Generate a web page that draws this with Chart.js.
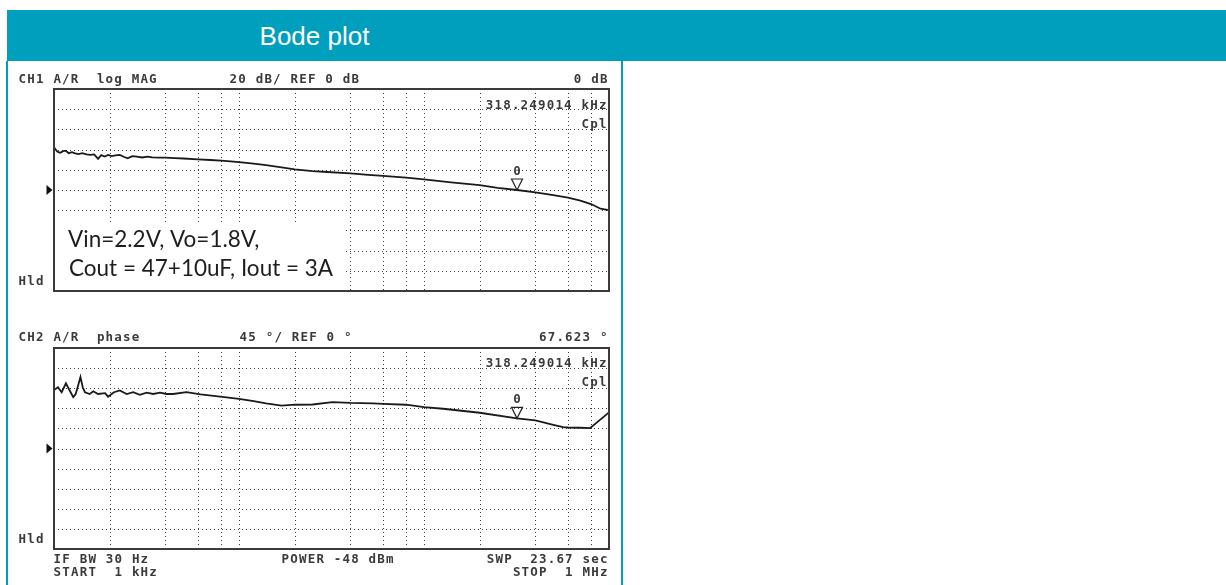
<!DOCTYPE html>
<html>
<head>
<meta charset="utf-8">
<title>Bode plot</title>
<script src="https://cdn.jsdelivr.net/npm/chart.js@4.4.1/dist/chart.umd.min.js"></script>
<style>
  html, body { margin: 0; padding: 0; background: #fff; width: 1226px; height: 585px; overflow: hidden; position: relative; }
  #hdr { position: absolute; left: 7px; top: 10px; width: 1219px; height: 51px; background: #009fbd; }
  #hdr span { position: absolute; left: 0; width: 615px; top: 11.5px; text-align: center;
              font: 26px "Liberation Sans", Arial, sans-serif; line-height: 29px; color: #fff; }
  #panel { position: absolute; left: 6px; top: 61px; width: 617px; height: 540px; box-sizing: border-box;
           border-left: 2px solid #009fbd; border-right: 2px solid #009fbd; }
  canvas { position: absolute; left: 0; top: 0; }
</style>
</head>
<body>
<div id="hdr"><span>Bode plot</span></div>
<div id="panel"></div>
<canvas id="magCanvas" width="1226" height="585"></canvas>
<canvas id="phaseCanvas" width="1226" height="585"></canvas>
<script>
// Sweep 1 kHz .. 1 MHz, frequencies in kHz
const magFreq = [1.0, 1.04, 1.08, 1.12, 1.16, 1.2, 1.25, 1.3, 1.36, 1.42, 1.5, 1.57, 1.65, 1.73, 1.8, 1.88, 1.96,
  2.05, 2.15, 2.27, 2.38, 2.5, 2.65, 2.8, 3.0, 3.2, 3.4, 3.7, 4.0, 4.5, 5, 6, 7, 8, 9, 10, 12, 14, 17, 20, 25, 30,
  40, 50, 60, 80, 100, 140, 200, 250, 318.249014, 400, 500, 600, 700, 800, 900, 1000];
const magDb = [42.3, 38.0, 36.9, 38.5, 38.9, 36.5, 37.5, 36.2, 35.6, 36.4, 35.2, 34.7, 35.3, 30.8, 34.5, 33.2, 34.8,
  33.5, 34.2, 34.7, 32.9, 31.4, 33.6, 33.0, 32.2, 33.0, 32.4, 32.0, 32.0, 31.5, 31.2, 30.4, 29.7, 29.0, 28.3, 27.7,
  26.2, 24.6, 22.5, 20.5, 18.6, 17.8, 16.5, 15.0, 13.9, 12.2, 10.6, 7.6, 4.8, 2.2, 0, -2.3, -5.0, -7.6, -10.5, -13.9,
  -18.5, -20.0];

const phaseFreq = [1.0, 1.05, 1.10, 1.16, 1.23, 1.27, 1.31, 1.35, 1.39, 1.43, 1.47, 1.56, 1.63, 1.73, 1.89, 1.96,
  2.05, 2.11, 2.27, 2.47, 2.68, 2.91, 3.17, 3.44, 3.74, 4.06, 4.4, 5.2, 6.2, 7.9, 10, 12, 14, 17, 20, 25, 32, 40,
  53, 60, 80, 100, 127, 200, 318.249014, 400, 500, 565, 600, 700, 790, 1000];
const phaseDeg = [131, 137, 126, 146, 126, 115, 122, 141, 160, 137, 126, 122, 128, 122, 124, 116,
  122, 126, 130, 122, 126, 120, 125, 122, 125, 122, 122, 126, 121, 116, 111, 106, 101, 96, 98, 98.5, 104, 102,
  101, 100, 98, 92.5, 89, 80, 67.623, 63, 53, 48, 47, 46.5, 45.5, 81];

// Graticule
const gridFreqs = [2, 4, 6, 8, 10, 20, 40, 60, 80, 100, 200, 400, 600, 800];
const magGrid = [-80, -60, -40, -20, 0, 20, 40, 60, 80];
const phaseGrid = [-180, -135, -90, -45, 0, 45, 90, 135, 180];

// Marker 0
const markerFreq = 318.249014;
const markerMag = 0;
const markerPhase = 67.623;

const MONO = 'bold 12.5px "DejaVu Sans Mono", "Liberation Mono", monospace';
const PITCH = 8.7;
const INK = '#3a3a3a';

function monoText(ctx, s, x, y, align) {
  const x0 = align === 'right' ? x - s.length * PITCH : x;
  ctx.font = MONO;
  ctx.fillStyle = INK;
  ctx.textAlign = 'center';
  ctx.textBaseline = 'alphabetic';
  for (let i = 0; i < s.length; i++) {
    if (s[i] !== ' ') ctx.fillText(s[i], x0 + i * PITCH + PITCH / 2, y);
  }
}

function drawGrid(chart, yGrid) {
  const { ctx, chartArea: a, scales: { x, y } } = chart;
  ctx.save();
  ctx.strokeStyle = '#3c3c3c';
  ctx.lineWidth = 1;
  ctx.setLineDash([1, 3]);
  gridFreqs.forEach(f => {
    const px = Math.round(x.getPixelForValue(f)) + 0.5;
    ctx.beginPath(); ctx.moveTo(px, a.top); ctx.lineTo(px, a.bottom); ctx.stroke();
  });
  yGrid.forEach(v => {
    const py = Math.round(y.getPixelForValue(v)) + 0.5;
    ctx.beginPath(); ctx.moveTo(a.left, py); ctx.lineTo(a.right, py); ctx.stroke();
  });
  ctx.restore();
}

function drawFrame(chart) {
  const { ctx, chartArea: a, scales: { y } } = chart;
  ctx.save();
  ctx.strokeStyle = '#3a3a3a';
  ctx.lineWidth = 2;
  ctx.strokeRect(a.left, a.top, a.right - a.left, a.bottom - a.top);
  // reference position arrow
  const ry = y.getPixelForValue(0);
  ctx.fillStyle = '#111';
  ctx.beginPath(); ctx.moveTo(46.5, ry - 5); ctx.lineTo(46.5, ry + 5); ctx.lineTo(52.5, ry); ctx.closePath(); ctx.fill();
  ctx.restore();
}

function drawMarker(chart, f, v) {
  const { ctx, scales: { x, y } } = chart;
  const mx = x.getPixelForValue(f), my = y.getPixelForValue(v);
  ctx.save();
  ctx.strokeStyle = '#222';
  ctx.lineWidth = 1.2;
  ctx.beginPath();
  ctx.moveTo(mx - 5.5, my - 11); ctx.lineTo(mx + 5.5, my - 11); ctx.lineTo(mx, my); ctx.closePath();
  ctx.stroke();
  ctx.font = MONO; ctx.fillStyle = INK; ctx.textAlign = 'center'; ctx.textBaseline = 'alphabetic';
  ctx.fillText('0', mx, my - 15);
  ctx.restore();
}

const magDeco = {
  id: 'magDeco',
  beforeDatasetsDraw(chart) { drawGrid(chart, magGrid); },
  afterDatasetsDraw(chart) {
    const ctx = chart.ctx;
    drawMarker(chart, markerFreq, markerMag);
    // condition label
    ctx.save();
    ctx.fillStyle = '#fff';
    ctx.fillRect(55, 222, 288, 69);
    ctx.fillStyle = '#1e1e1e';
    ctx.font = '22.5px Lato, "Open Sans", sans-serif';
    ctx.textAlign = 'left'; ctx.textBaseline = 'alphabetic';
    ctx.fillText('Vin=2.2V, Vo=1.8V,', 68, 246.5);
    ctx.fillText('Cout = 47+10uF, Iout = 3A', 69, 275.5);
    ctx.restore();
    drawFrame(chart);
    monoText(ctx, 'CH1 A/R  log MAG', 18, 82.5);
    monoText(ctx, '20 dB/ REF 0 dB', 229, 82.5);
    monoText(ctx, '0 dB', 608, 82.5, 'right');
    monoText(ctx, '318.249014 kHz', 607, 109, 'right');
    monoText(ctx, 'Cpl', 607, 128, 'right');
    monoText(ctx, 'Hld', 18, 285);
  }
};

const phaseDeco = {
  id: 'phaseDeco',
  beforeDatasetsDraw(chart) { drawGrid(chart, phaseGrid); },
  afterDatasetsDraw(chart) {
    const ctx = chart.ctx;
    drawMarker(chart, markerFreq, markerPhase);
    drawFrame(chart);
    monoText(ctx, 'CH2 A/R  phase', 18, 340.5);
    monoText(ctx, '45 \u00b0/ REF 0 \u00b0', 239, 340.5);
    monoText(ctx, markerPhase.toFixed(3) + ' \u00b0', 608, 340.5, 'right');
    monoText(ctx, '318.249014 kHz', 607, 367, 'right');
    monoText(ctx, 'Cpl', 607, 386, 'right');
    monoText(ctx, 'Hld', 18, 543);
    monoText(ctx, 'IF BW 30 Hz', 53, 563);
    monoText(ctx, 'START  1 kHz', 53, 575.5);
    monoText(ctx, 'POWER -48 dBm', 281, 563);
    monoText(ctx, 'SWP  23.67 sec', 608, 563, 'right');
    monoText(ctx, 'STOP  1 MHz', 608, 575.5, 'right');
  }
};

function scopeChart(id, xs, ys, yMin, yMax, pad, deco) {
  return new Chart(document.getElementById(id), {
    type: 'line',
    data: {
      datasets: [{
        data: xs.map((f, i) => ({ x: f, y: ys[i] })),
        borderColor: '#1a1a1a', borderWidth: 1.8, pointRadius: 0, tension: 0, fill: false
      }]
    },
    options: {
      responsive: false, animation: false, events: [], devicePixelRatio: 1,
      layout: { padding: pad },
      scales: {
        x: { type: 'logarithmic', min: 1, max: 1000, display: false },
        y: { type: 'linear', min: yMin, max: yMax, display: false }
      },
      plugins: { legend: { display: false }, tooltip: { enabled: false } }
    },
    plugins: [deco]
  });
}

scopeChart('magCanvas', magFreq, magDb, -100, 100, { left: 54, top: 89, right: 617, bottom: 294 }, magDeco);
scopeChart('phaseCanvas', phaseFreq, phaseDeg, -225, 225, { left: 54, top: 348, right: 617, bottom: 36 }, phaseDeco);
</script>
</body>
</html>
